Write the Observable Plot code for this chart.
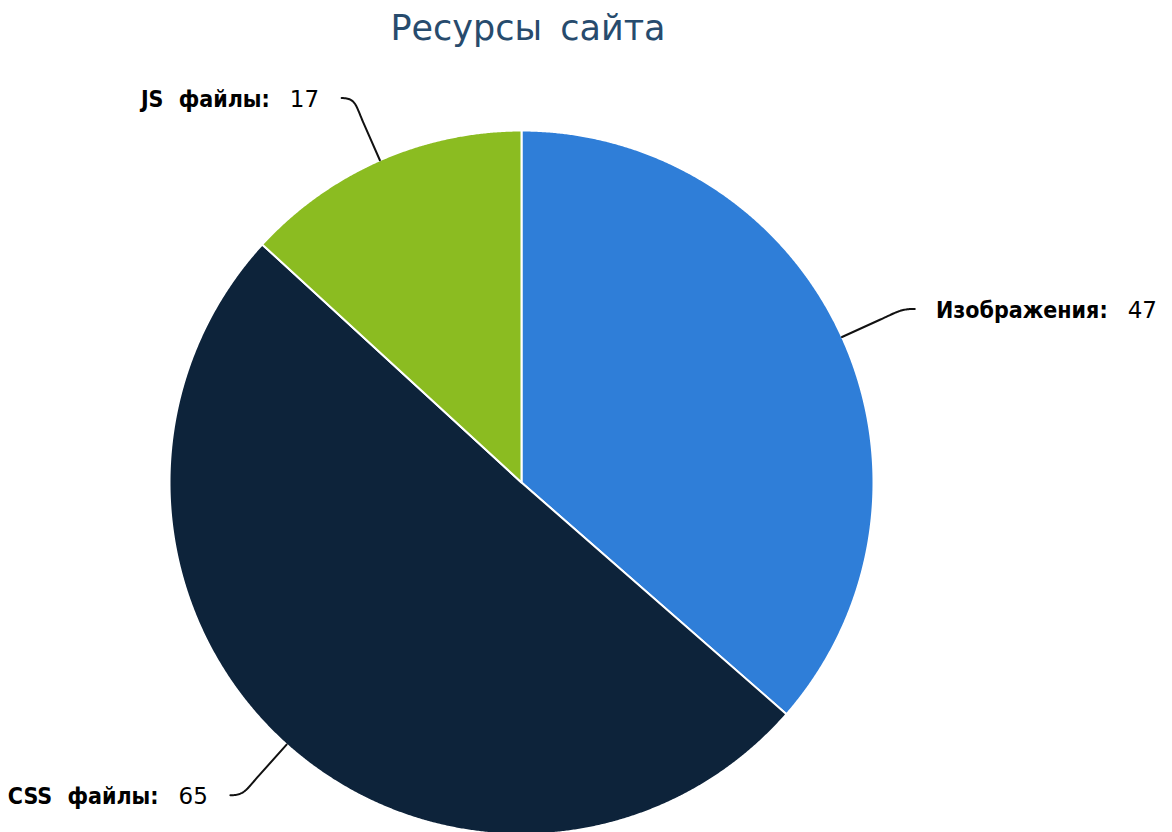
<!DOCTYPE html>
<html><head><meta charset="utf-8">
<script src="https://cdn.jsdelivr.net/npm/d3@7"></script>
<script src="https://cdn.jsdelivr.net/npm/@observablehq/plot@0.6"></script>
<style>
body{margin:0;background:#fff;overflow:hidden;width:1172px;height:832px;}
#title{height:60px;width:1056px;text-align:center;font-family:"DejaVu Sans";font-size:35px;line-height:56px;color:#274b6d;word-spacing:7px;white-space:pre}
#chart svg{overflow:visible;display:block}
</style></head><body>
<div id="title"></div>
<div id="chart"></div>
<script>
const titleText = "Ресурсы сайта";
const categories = ["Изображения", "CSS файлы", "JS файлы"];
const values = [47, 65, 17];
const colors = ["#2f7ed8", "#0d233a", "#8bbc21"];

document.getElementById("title").textContent = titleText;

const items = categories.map((c, i) => ({name: c, value: values[i], color: colors[i]}));
const arcs = d3.pie().sort(null).value(d => d.value)(items);
const pt = (a, r) => [r * Math.sin(a), r * Math.cos(a)];

const slices = [];
arcs.forEach(a => {
  const n = Math.max(2, Math.ceil((a.endAngle - a.startAngle) / 0.004));
  slices.push({name: a.data.name, x: 0, y: 0});
  for (let k = 0; k <= n; k++) {
    const t = a.startAngle + (a.endAngle - a.startAngle) * k / n;
    const [x, y] = pt(t, 1);
    slices.push({name: a.data.name, x, y});
  }
  slices.push({name: a.data.name, x: 0, y: 0});
});

// connectors (Highcharts-like soft connectors)
const connectors = [];
const labels = [];
arcs.forEach(a => {
  const m = (a.startAngle + a.endAngle) / 2;
  const right = Math.sin(m) > 0;
  const s = right ? 1 : -1;
  const P0 = pt(m, 1), P1 = pt(m, 1.12), C1 = pt(m, 1.17);
  const Q = pt(m, 1.193);
  const P2 = [Q[0] + s * 0.031, Q[1]];
  const C2 = [P2[0] - s * 0.04, P2[1]];
  connectors.push({name: a.data.name, x: P0[0], y: P0[1]});
  const N = 30;
  for (let k = 0; k <= N; k++) {
    const t = k / N, u = 1 - t;
    const x = u*u*u*P1[0] + 3*u*u*t*C1[0] + 3*u*t*t*C2[0] + t*t*t*P2[0];
    const y = u*u*u*P1[1] + 3*u*u*t*C1[1] + 3*u*t*t*C2[1] + t*t*t*P2[1];
    connectors.push({name: a.data.name, x, y});
  }
  labels.push({name: a.data.name, value: a.data.value, right,
    x: P2[0] + (right ? 0.06 : -0.064), y: P2[1] - 0.005});
});

function makeRich(list, wordSpacing) {
  return function(index, scales, vals, dims, ctx, next) {
    const g = next(index, scales, vals, dims, ctx);
    d3.select(g).selectAll("text").each(function(i) {
      const d = list[i];
      const t = d3.select(this);
      t.text(null).style("word-spacing", wordSpacing + "px");
      t.append("tspan").attr("font-weight", "bold").text(d.name + ":");
      t.append("tspan").attr("font-weight", "normal").attr("font-family", "DejaVu Sans").attr("dx", 20).text(String(d.value));
    });
    return g;
  };
}

const rightLabels = labels.filter(d => d.right);
const leftLabels = labels.filter(d => !d.right);

const R = 352, cx = 521, cy = 422;
const chart = Plot.plot({
  width: 1172,
  height: 772,
  margin: 0,
  x: {domain: [-1, 1], range: [cx - R, cx + R], axis: null},
  y: {domain: [-1, 1], range: [cy + R, cy - R], axis: null},
  color: {domain: categories, range: colors},
  style: {background: "transparent"},
  marks: [
    Plot.line(slices, {x: "x", y: "y", z: "name", fill: "name", stroke: "white", strokeWidth: 2, curve: "linear"}),
    Plot.line(connectors, {x: "x", y: "y", z: "name", stroke: "#111", strokeWidth: 2, curve: "linear"}),
    Plot.text(rightLabels, {x: "x", y: "y", text: "name", textAnchor: "start", fontSize: 23,
      fontFamily: "DejaVu Sans Condensed", fill: "black", render: makeRich(rightLabels, 6)}),
    Plot.text(leftLabels, {x: "x", y: "y", text: "name", textAnchor: "end", fontSize: 23,
      fontFamily: "DejaVu Sans Condensed", fill: "black", render: makeRich(leftLabels, 8)})
  ]
});
document.getElementById("chart").appendChild(chart);
</script>
</body></html>
